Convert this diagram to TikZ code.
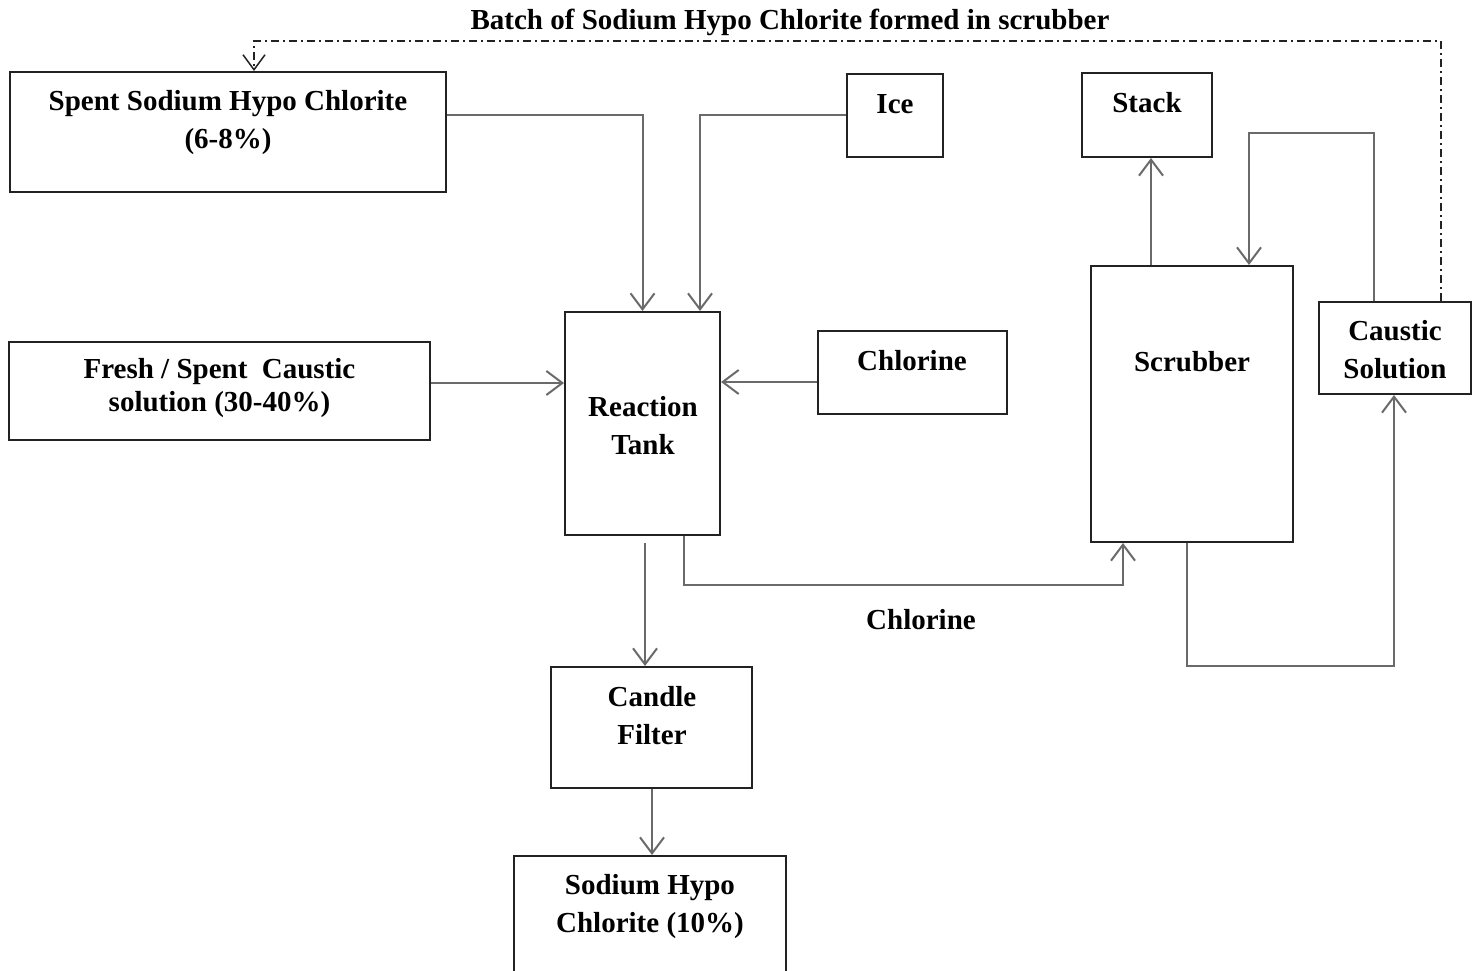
\documentclass[tikz,border=0pt]{standalone}
\usepackage{fontspec}
\setmainfont{Liberation Serif}
\usetikzlibrary{arrows.meta}
\definecolor{linegray}{HTML}{6A6A6A}
\definecolor{boxblack}{HTML}{222222}
\tikzset{
  blk/.style={draw=boxblack, line width=2pt, inner sep=0pt, fill=none},
  txt/.style={font=\fontsize{29}{38}\selectfont\bfseries, align=center, inner sep=0pt},
  arr/.style={draw=linegray, line width=2pt, -{Straight Barb[length=16pt,width=24pt,line width=2pt]}},
  ddarr/.style={draw=boxblack, line width=1.5pt, dash pattern=on 8pt off 4pt on 2pt off 4pt, -{Straight Barb[length=15pt,width=22pt,line width=1.5pt]}}
}
\begin{document}
\begin{tikzpicture}[x=1pt,y=-1pt]
\useasboundingbox (0,0) rectangle (1478,971);
\clip (0,0) rectangle (1478,971);
\fill[white] (0,0) rectangle (1478,971);
% boxes
\node[blk, minimum width=436pt, minimum height=120pt] (spent) at (228,132) {};
\node[blk, minimum width=96pt, minimum height=83pt] (ice) at (895,115.5) {};
\node[blk, minimum width=130pt, minimum height=84pt] (stack) at (1147,115) {};
\node[blk, minimum width=421pt, minimum height=98pt] (fresh) at (219.5,391) {};
\node[blk, minimum width=155pt, minimum height=223pt] (rt) at (642.5,423.5) {};
\node[blk, minimum width=189pt, minimum height=83pt] (chl) at (912.5,372.5) {};
\node[blk, minimum width=202pt, minimum height=276pt] (scr) at (1192,404) {};
\node[blk, minimum width=152pt, minimum height=92pt] (caus) at (1395,348) {};
\node[blk, minimum width=201pt, minimum height=121pt] (cf) at (651.5,727.5) {};
\node[blk, minimum width=272pt, minimum height=144pt] (shc) at (650,928) {};
% texts
\node[txt] (tspent) at (228,123) {Spent Sodium Hypo Chlorite\\(6-8\%)};
\node[txt] (tice) at (895,104) {Ice};
\node[txt] (tstack) at (1147,103) {Stack};
\node[txt, font=\fontsize{29}{33}\selectfont\bfseries] (tfresh) at (219.5,388) {Fresh / Spent\ \ Caustic\\solution (30-40\%)};
\node[txt] (trt) at (643,426) {Reaction\\Tank};
\node[txt] (tchl) at (912,361) {Chlorine};
\node[txt] (tscr) at (1192,362) {Scrubber};
\node[txt] (tcaus) at (1395,350) {Caustic\\Solution};
\node[txt] (tcf) at (652,716) {Candle\\Filter};
\node[txt] (tshc) at (650,907) {Sodium Hypo\\Chlorite (10\%)};
\node[txt] (title) at (790,22) {Batch of Sodium Hypo Chlorite formed in scrubber};
\node[txt] (chllabel) at (921,620) {Chlorine};
% connectors
\draw[arr] ([yshift=17pt]spent.east) -| (rt.north);
\draw[arr] ([yshift=0.5pt]ice.west) -| ([xshift=57.5pt]rt.north);
\draw[arr] ([yshift=8pt]fresh.east) -- ([yshift=40.5pt]rt.west);
\draw[arr] ([yshift=-9.5pt]chl.west) -- ([yshift=41.5pt]rt.east);
\draw[arr] ([xshift=2.5pt,yshift=-7pt]rt.south) -- ([xshift=-6.5pt]cf.north);
\draw[arr] ([xshift=0.5pt]cf.south) -- ([xshift=2pt]shc.north);
\draw[arr] ([xshift=41.5pt]rt.south) -- ++(0,49) -| ([xshift=-69pt]scr.south);
\draw[arr] ([xshift=-41pt]scr.north) -- ([xshift=4pt]stack.south);
\draw[arr] ([xshift=-21pt]caus.north) -- ++(0,-168) -| ([xshift=57pt]scr.north);
\draw[arr] ([xshift=-5pt]scr.south) -- ++(0,123) -| ([xshift=-1pt]caus.south);
\draw[ddarr] ([xshift=46pt]caus.north) -- ++(0,-260) -| ([xshift=26pt]spent.north);
\end{tikzpicture}
\end{document}
